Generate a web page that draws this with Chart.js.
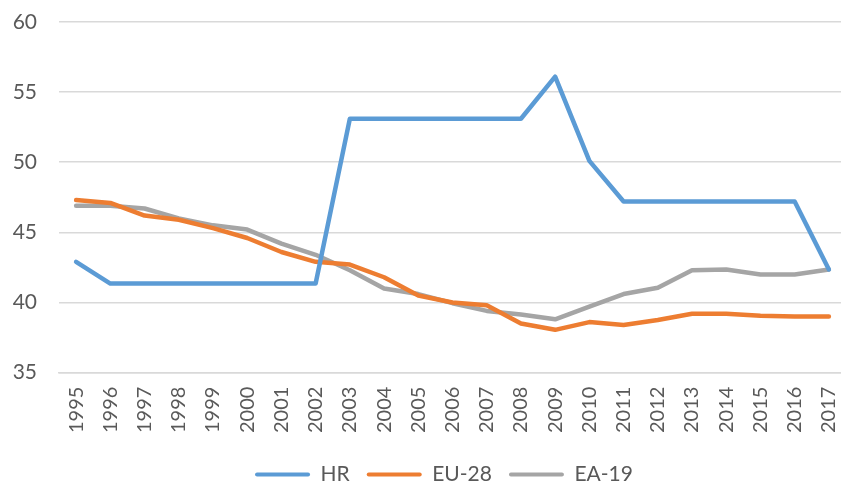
<!DOCTYPE html>
<html>
<head>
<meta charset="utf-8">
<script src="https://cdn.jsdelivr.net/npm/chart.js@4"></script>
<style>
  html, body { margin: 0; padding: 0; background: #fff; overflow: hidden; }
  #wrap { width: 841px; height: 485px; overflow: hidden; }
</style>
</head>
<body>
<div id="wrap"><canvas class="chart" width="856" height="485"></canvas></div>
<script>
const years = [
  "1995", "1996", "1997", "1998", "1999", "2000", "2001", "2002", "2003", "2004", "2005", "2006",
  "2007", "2008", "2009", "2010", "2011", "2012", "2013", "2014", "2015", "2016", "2017"
];
const hr = [42.9, 41.35, 41.35, 41.35, 41.35, 41.35, 41.35, 41.35, 53.1, 53.1, 53.1, 53.1,
  53.1, 53.1, 56.1, 50.1, 47.2, 47.2, 47.2, 47.2, 47.2, 47.2, 42.35];
const eu28 = [47.3, 47.1, 46.2, 45.9, 45.3, 44.6, 43.6, 42.9, 42.7, 41.8, 40.5, 40.0,
  39.8, 38.5, 38.05, 38.6, 38.4, 38.75, 39.2, 39.2, 39.05, 39.0, 39.0];
const ea19 = [46.9, 46.9, 46.7, 46.0, 45.5, 45.2, 44.2, 43.4, 42.3, 41.0, 40.6, 39.95,
  39.4, 39.15, 38.8, 39.7, 40.6, 41.05, 42.3, 42.35, 42.0, 42.0, 42.35];
const yTicks = [35, 40, 45, 50, 55, 60];

const chart = document.querySelector(".chart");
const ctx = chart.getContext("2d");
const font = "Lato";
const textColor = "#595959";

const line = (label, values, color) => ({
  label: label,
  data: values,
  borderColor: color,
  backgroundColor: color,
  borderWidth: 4.5,
  pointRadius: 0,
  tension: 0,
  borderJoinStyle: "round",
  borderCapStyle: "round"
});

// nudge the legend a bit to the right, like the original
const legendShift = {
  id: "legendShift",
  afterLayout: (c) => {
    c.legend.left += 15;
    c.legend.right += 15;
  }
};

const config = {
  type: "line",
  data: {
    labels: years,
    datasets: [
      line("HR", hr, "#5B9BD5"),
      line("EU-28", eu28, "#ED7D31"),
      line("EA-19", ea19, "#A5A5A5")
    ]
  },
  plugins: [legendShift],
  options: {
    responsive: false,
    animation: false,
    layout: { padding: { top: 22, right: 10, bottom: -10, left: 12 } },
    plugins: {
      tooltip: { enabled: false },
      legend: {
        position: "bottom",
        labels: {
          font: { family: font, size: 21 },
          color: textColor,
          boxWidth: 55,
          boxHeight: 4,
          padding: 17,
          useBorderRadius: true,
          borderRadius: 2,
          generateLabels: (c) => Chart.defaults.plugins.legend.labels.generateLabels(c)
            .map(l => Object.assign(l, { lineWidth: 0 }))
        }
      }
    },
    scales: {
      x: {
        offset: true,
        grid: { display: false, drawTicks: false },
        border: { display: true, color: "#D9D9D9", width: 1.5 },
        afterFit: (axis) => { axis.paddingLeft = 0; axis.paddingRight = 0; },
        ticks: {
          minRotation: 90,
          maxRotation: 90,
          autoSkip: false,
          padding: 14,
          color: textColor,
          font: { family: font, size: 20 }
        }
      },
      y: {
        min: 35,
        max: 60,
        afterBuildTicks: (axis) => { axis.ticks = yTicks.map(v => ({ value: v })); },
        afterFit: (axis) => { axis.width = 47; axis.paddingTop = 0; axis.paddingBottom = 0; },
        grid: { color: "#D9D9D9", lineWidth: 1.5, drawTicks: false },
        border: { display: false },
        ticks: {
          padding: 22,
          color: textColor,
          font: { family: font, size: 21 }
        }
      }
    }
  }
};

const myChart = new Chart(chart, config);
</script>
</body>
</html>
